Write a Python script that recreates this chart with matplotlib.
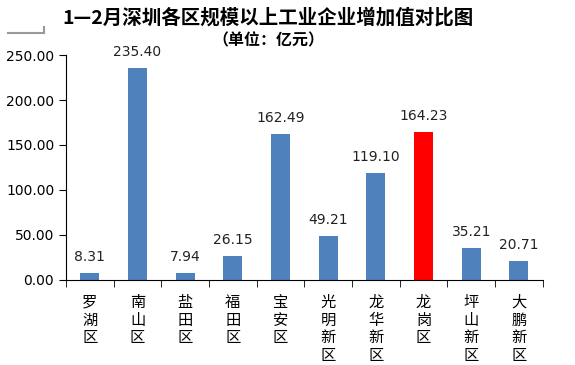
import matplotlib
matplotlib.use("Agg")
import matplotlib.pyplot as plt
from matplotlib.lines import Line2D
import numpy as np

plt.rcParams['font.family'] = ['Noto Sans CJK SC', 'DejaVu Sans']

districts = ['罗湖区', '南山区', '盐田区', '福田区', '宝安区',
             '光明新区', '龙华新区', '龙岗区', '坪山新区', '大鹏新区']
values = [8.31, 235.40, 7.94, 26.15, 162.49, 49.21, 119.10, 164.23, 35.21, 20.71]
highlight = '龙岗区'
yticks = [0, 50, 100, 150, 200, 250]

blue = '#4F81BD'
red = '#FF0000'

fig = plt.figure(figsize=(5.75, 3.65), dpi=100)
ax = fig.add_axes([0.1148, 0.2329, 0.8292, 0.6164])

x = np.arange(len(districts))
colors = [red if d == highlight else blue for d in districts]
bars = ax.bar(x, values, width=0.4, color=colors)

for xi, v in zip(x, values):
    ax.text(xi, v + 10, f'{v:.2f}', ha='center', va='bottom', fontsize=10,
            family=['DejaVu Sans'], color='#222222')

ax.set_xlim(-0.5, len(districts) - 0.5)
ax.set_ylim(0, 250)
ax.set_yticks(yticks)
ax.set_yticklabels([f'{t:.2f}' for t in yticks], fontsize=10, family=['DejaVu Sans'])

ax.set_xticks(x)
ax.set_xticklabels(['\n'.join(d) for d in districts], fontsize=11, linespacing=1.05, va='top')
ax.tick_params(axis='x', which='major', length=0, pad=10)
ax.set_xticks(np.arange(-0.5, len(districts)), minor=True)
ax.tick_params(axis='x', which='minor', length=5, direction='out')
ax.tick_params(axis='y', length=5, direction='out')

for s in ['top', 'right']:
    ax.spines[s].set_visible(False)

fig.text(0.466, 0.951, '1—2月深圳各区规模以上工业企业增加值对比图', ha='center', va='center',
         fontsize=14, fontweight='bold')
fig.text(0.466, 0.888, '（单位：亿元）', ha='center', va='center', fontsize=11.5, fontweight='bold')

# small grey corner mark at the top left
fig.add_artist(Line2D([8 / 575, 44 / 575], [1 - 33 / 365, 1 - 33 / 365], color='#999999', lw=1.5))
fig.add_artist(Line2D([44 / 575, 44 / 575], [1 - 33 / 365, 1 - 27 / 365], color='#999999', lw=1.5))

fig.savefig('out.png', dpi=100)
